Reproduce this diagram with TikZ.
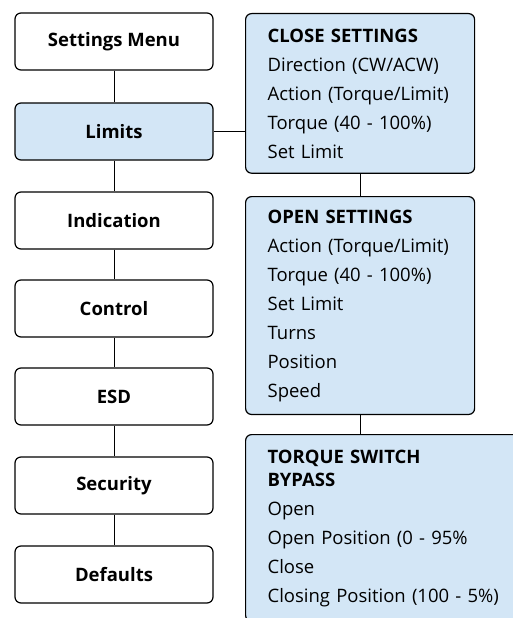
\documentclass[tikz,border=0pt]{standalone}
\usepackage{fontspec}
\setmainfont{Open Sans}
\usetikzlibrary{positioning}
\definecolor{limitblue}{RGB}{211,230,246}

\begin{document}
\begin{tikzpicture}[x=1pt,y=-1pt,
	menu/.style={draw, line width=1.2pt, rounded corners=6pt, minimum width=198pt, minimum height=57pt, font=\fontsize{18.5}{23}\selectfont\bfseries},
	sub/.style={draw, line width=1.2pt, fill=limitblue, rounded corners=6pt, anchor=north west, align=left, inner xsep=22pt, inner ysep=15pt, font=\fontsize{18.5}{29}\selectfont},
	link/.style={line width=0.9pt}]
	\useasboundingbox (0,0) rectangle (513,618);
	\clip (0,0) rectangle (513,618);
	% left column
	\node[menu] (S) at (114,41.5) {Settings Menu};
	\node[menu, fill=limitblue] (L) at (114,131.5) {Limits};
	\node[menu] (I) at (114,220.5) {Indication};
	\node[menu] (C) at (114,308.5) {Control};
	\node[menu] (E) at (114,396.5) {ESD};
	\node[menu] (Sec) at (114,485.5) {Security};
	\node[menu] (D) at (114,574.5) {Defaults};
	% right column
	\node[sub, text width=185pt] (CL) at (245,13) {\textbf{CLOSE SETTINGS}\\Direction (CW/ACW)\\Action (Torque/Limit)\\Torque (40 - 100\%)\\Set Limit};
	\node[sub, text width=185pt, inner ysep=13pt] (OP) at (245,196) {\textbf{OPEN SETTINGS}\\Action (Torque/Limit)\\Torque (40 - 100\%)\\Set Limit\\Turns\\Position\\Speed};
	\node[sub, text width=260pt] (TB) at (245,434) {\textbf{TORQUE SWITCH}\\[-6pt]\textbf{BYPASS}\\Open\\Open Position (0 - 95\%\\Close\\Closing Position (100 - 5\%)};
	% connectors
	\draw[link] (S) -- (L);
	\draw[link] (L) -- (I);
	\draw[link] (I) -- (C);
	\draw[link] (C) -- (E);
	\draw[link] (E) -- (Sec);
	\draw[link] (Sec) -- (D);
	\draw[link] (L.east) -- (L.east -| CL.west);
	\draw[link] (CL.south) -- (OP.north);
	\draw[link] (OP.south) -- (OP.south |- TB.north);
\end{tikzpicture}
\end{document}
